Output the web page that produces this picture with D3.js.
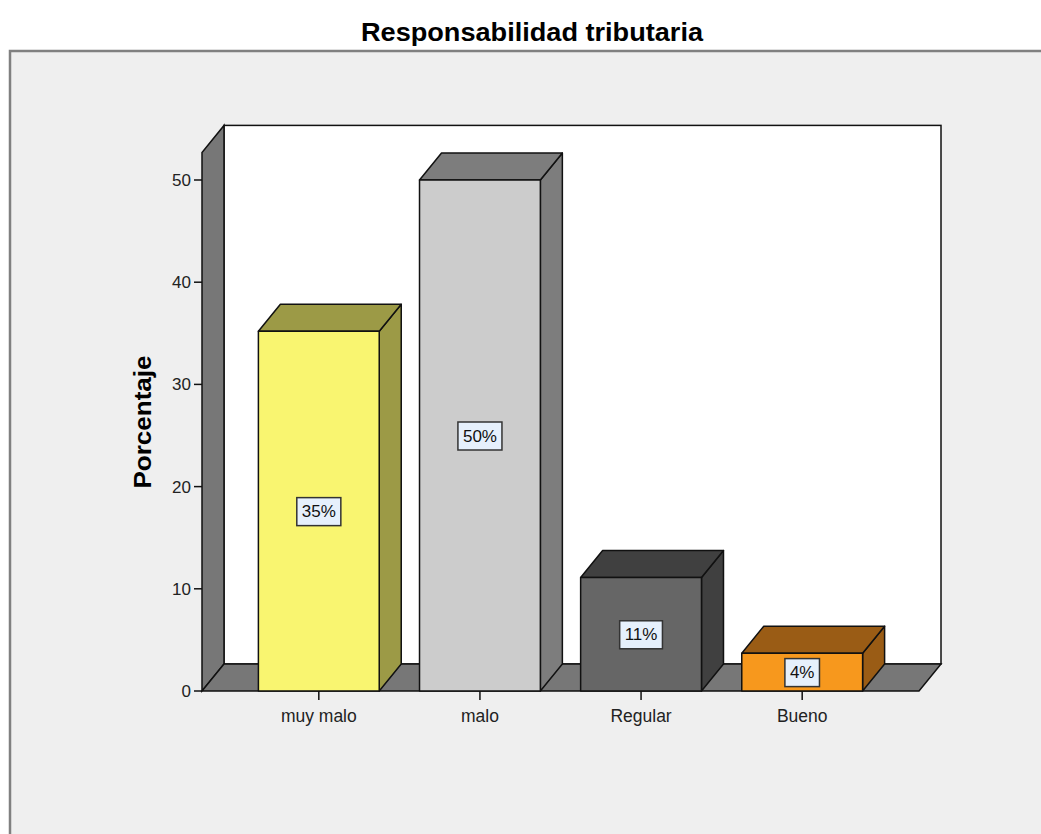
<!DOCTYPE html>
<html><head><meta charset="utf-8">
<script src="https://cdn.jsdelivr.net/npm/d3@7"></script>
<style>body{margin:0;background:#fff;}svg{display:block;font-family:"Liberation Sans",Arial,sans-serif;}</style>
</head><body>
<svg id="c" width="1041" height="834"></svg>
<script>
const categories = ["muy malo","malo","Regular","Bueno"];
const values = [35.2, 50.0, 11.1, 3.7];
const labels = ["35%","50%","11%","4%"];
const yTicks = [0,10,20,30,40,50];
const frontColors = ["#f9f570","#cccccc","#666666","#f7981d"];
const darkColors = ["#9c9a46","#7d7d7d","#404040","#9a5c15"];

const svg = d3.select("#c");
const dx = 22, dy = -27;
const x = d3.scaleBand().domain(categories).range([202,919]).paddingInner(0.25).paddingOuter(0.35);
const y = d3.scaleLinear().domain([0,50]).range([691,180]);
const wallTop = 52.7;

// outer panel
svg.append("rect").attr("x",10).attr("y",51).attr("width",1040).attr("height",800)
  .attr("fill","#efefef").attr("stroke","#808080").attr("stroke-width",2.5);

// title
svg.append("text").attr("x",532).attr("y",41).attr("text-anchor","middle")
  .attr("font-weight","bold").attr("font-size",26).attr("textLength",342).attr("lengthAdjust","spacingAndGlyphs")
  .text("Responsabilidad tributaria");

const x0 = 202, x1 = 919;
const pts = a => a.map(p=>p.join(",")).join(" ");
// back wall
svg.append("rect").attr("x",x0+dx).attr("y",y(wallTop)+dy).attr("width",x1-x0)
  .attr("height",y(0)-y(wallTop)).attr("fill","#fff").attr("stroke","#111").attr("stroke-width",1.5);
// left wall
svg.append("polygon").attr("points",pts([[x0,y(0)],[x0,y(wallTop)],[x0+dx,y(wallTop)+dy],[x0+dx,y(0)+dy]]))
  .attr("fill","#777").attr("stroke","#111").attr("stroke-width",1.5);
// floor
svg.append("polygon").attr("points",pts([[x0,y(0)],[x1,y(0)],[x1+dx,y(0)+dy],[x0+dx,y(0)+dy]]))
  .attr("fill","#777").attr("stroke","#111").attr("stroke-width",1.5);

// bars
const bw = x.bandwidth();
categories.forEach((c,i)=>{
  const bx = x(c), top = y(values[i]), bot = y(0);
  const g = svg.append("g").attr("stroke","#111").attr("stroke-width",1.5).attr("stroke-linejoin","round");
  g.append("polygon").attr("points",pts([[bx+bw,top],[bx+bw+dx,top+dy],[bx+bw+dx,bot+dy],[bx+bw,bot]])).attr("fill",darkColors[i]);
  g.append("polygon").attr("points",pts([[bx,top],[bx+dx,top+dy],[bx+bw+dx,top+dy],[bx+bw,top]])).attr("fill",darkColors[i]);
  g.append("rect").attr("x",bx).attr("y",top).attr("width",bw).attr("height",bot-top).attr("fill",frontColors[i]);
  // label
  const cx = bx+bw/2, cy = (top+bot)/2;
  const t = svg.append("text").attr("x",cx).attr("y",cy+6).attr("text-anchor","middle")
    .attr("font-size",17).attr("fill","#111").text(labels[i]);
  const w = t.node().getComputedTextLength();
  svg.insert("rect", () => t.node()).attr("x",cx-w/2-5).attr("y",cy-13.5).attr("width",w+10).attr("height",28)
    .attr("fill","#e6f0fc").attr("stroke","#333").attr("stroke-width",1.5);
});

// y axis ticks
const ya = svg.append("g");
yTicks.forEach(v=>{
  ya.append("line").attr("x1",194).attr("x2",x0).attr("y1",y(v)).attr("y2",y(v)).attr("stroke","#111").attr("stroke-width",1.5);
  ya.append("text").attr("x",191).attr("y",y(v)+6).attr("text-anchor","end").attr("font-size",17).attr("fill","#222").text(v);
});
// x axis ticks
categories.forEach(c=>{
  const cx = x(c)+bw/2;
  svg.append("line").attr("x1",cx).attr("x2",cx).attr("y1",y(0)).attr("y2",y(0)+9).attr("stroke","#111").attr("stroke-width",1.5);
  svg.append("text").attr("x",cx).attr("y",y(0)+31).attr("text-anchor","middle").attr("font-size",17.5).attr("fill","#222").text(c);
});
// y label
svg.append("text").attr("transform","translate(151,422) rotate(-90)").attr("text-anchor","middle")
  .attr("font-weight","bold").attr("font-size",23).attr("textLength",133).attr("lengthAdjust","spacingAndGlyphs").text("Porcentaje");
</script>
</body></html>
